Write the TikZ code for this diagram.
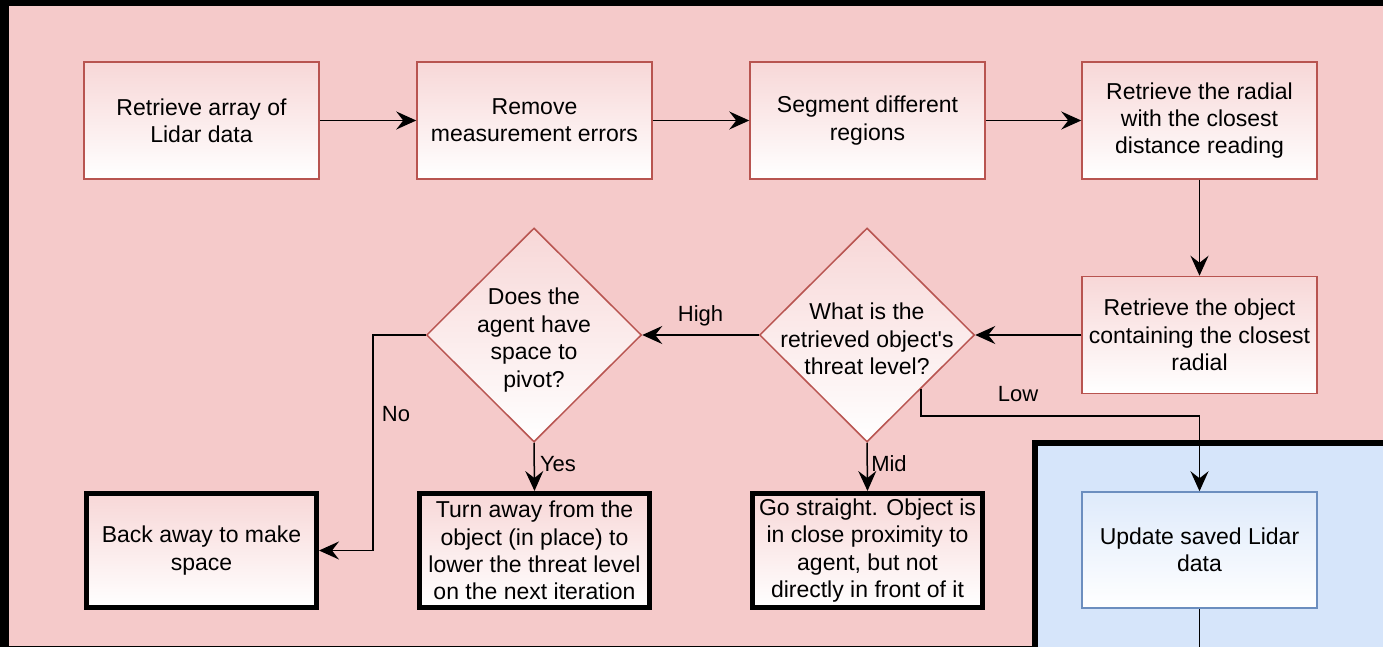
\documentclass[tikz,border=0pt]{standalone}
\usepackage{fontspec}
\setmainfont{Liberation Sans}
\usetikzlibrary{shapes.geometric,arrows.meta,calc}
\definecolor{pinkbg}{HTML}{F5CACA}
\definecolor{pinkline}{HTML}{B85450}
\definecolor{bluebg}{HTML}{D6E5FA}
\definecolor{blueline}{HTML}{6C8EBF}
\begin{document}
\begin{tikzpicture}[x=1pt,y=-1pt,
  txt/.style={font=\fontsize{23}{27.4}\selectfont, align=center, inner sep=0pt},
  procbox/.style={txt, rectangle, draw=pinkline, line width=1.5pt, top color=pinkbg!75!white, bottom color=white, minimum width=235pt, minimum height=117pt},
  bluebox/.style={txt, rectangle, draw=blueline, line width=1.5pt, top color=bluebg!80!white, bottom color=white, minimum width=235pt, minimum height=116pt},
  endbox/.style={txt, rectangle, draw=black, line width=5pt, top color=pinkbg!75!white, bottom color=white, minimum width=230pt, minimum height=114pt},
  decision/.style={diamond, draw=pinkline, line width=1.5pt, top color=pinkbg!75!white, bottom color=white, minimum width=215pt, minimum height=214pt, inner sep=0pt},
  lbl/.style={font=\fontsize{22}{26}\selectfont, inner sep=0pt},
  conn/.style={line width=1.5pt, -{Stealth[length=20pt,width=18pt,inset=7pt]}},
  plain/.style={line width=1.5pt}]
\useasboundingbox (0,0) rectangle (1383,647);
% frame and regions
\fill[black] (0,0) rectangle (1383,647);
\fill[pinkbg] (9,6) rectangle (1383,646);
\fill[black] (1032,440) rectangle (1383,647);
\fill[bluebg] (1038,446) rectangle (1383,647);
% top row
\node[procbox] (b1) at (201.5,120.5) {Retrieve array of\\Lidar data};
\node[procbox] (b2) at (534.5,120.5) {Remove\\measurement errors};
\node[procbox] (b3) at (867.5,120.5) {Segment different\\regions};
\node[procbox] (b4) at (1199.5,120.5) {Retrieve the radial\\with the closest\\distance reading};
\node[procbox] (b5) at (1199.5,335) {Retrieve the object\\containing the closest\\radial};
% decisions
\node[decision] (d1) at (867,335) {};
\node[txt] (d1t) at (867,339) {What is the\\retrieved object\textquotesingle s\\threat level?};
\node[decision] (d2) at (534,335) {};
\node[txt] (d2t) at (534,340) {Does the\\agent have\\space to\\pivot?};
% end boxes
\node[endbox] (back) at (201.5,550.5) {Back away to make\\space};
\node[endbox] (turn) at (534.5,550.5) {Turn away from the\\object (in place) to\\lower the threat level\\on the next iteration};
\node[endbox] (go) at (867.5,550.5) {Go straight. Object is\\in close proximity to\\agent, but not\\directly in front of it};
\node[bluebox] (upd) at (1199.5,550) {Update saved Lidar\\data};
\coordinate (exit) at (1199.5,647);
% connectors
\draw[conn] (b1) -- (b2);
\draw[conn] (b2) -- (b3);
\draw[conn] (b3) -- (b4);
\draw[conn] (b4) -- (b5);
\draw[conn] (b5) -- (d1.east);
\draw[conn] (d1.west) -- node[lbl, above=8pt] {High} (d2.east);
\draw[conn] (d1.south) -- (go.north);
\draw[conn] (d2.south) -- (turn.north);
\draw[conn] (d1.south east) -- ++(0,27) -| (upd.north);
\draw[conn] (d2.west) -- ++(-53,0) |- (back.east);
\draw[plain] (upd.south) -- (exit);
% labels
\node[lbl] at (1018,394) {Low};
\node[lbl] at (396,414) {No};
\node[lbl] at (558,464) {Yes};
\node[lbl] at (889,464) {Mid};
\end{tikzpicture}
\end{document}
